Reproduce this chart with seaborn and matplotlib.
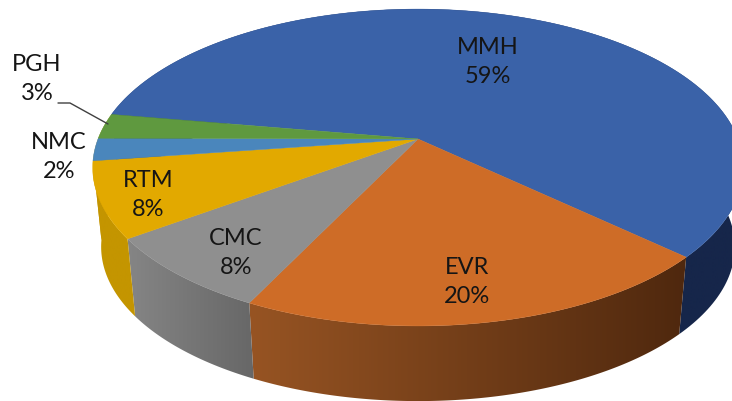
import numpy as np
import matplotlib
matplotlib.use("Agg")
import matplotlib.pyplot as plt
from matplotlib.colors import LinearSegmentedColormap
from matplotlib.patches import Polygon
import seaborn as sns

# pie values, clockwise starting from MMH
names = ['MMH', 'EVR', 'CMC', 'RTM', 'NMC', 'PGH']
shares = [59.2, 20.45, 7.8, 7.7, 2.3, 2.55]

top_colors = ['#3A62A8', '#CE6C27', '#8F8F8F', '#E2A900', '#4A86BC', '#5F993F']
# side colour at left end and right end of each slice
side_left = ['#16264A', '#975423', '#858585', '#C49500', '#C49500', '#C49500']
side_right = ['#16264A', '#4F280E', '#676767', '#C49500', '#C49500', '#C49500']

label_x = [488, 467, 236, 148, 59, 37]
label_y = [62, 282, 253, 195, 157, 79]

# perspective look of the pie, in pixels
cx, cy = 418, 140
start_angle = -80.5
rx, ry, tilt = 320, 153.3, 0.18
depth, shrink = 80, 0.974


def top_point(theta):
    u = np.sin(theta)
    v = -np.cos(theta)
    k = 1 / (1 - tilt * v)
    return cx + rx * u * k, cy + ry * v * k


sns.set_theme(style='white')
plt.rcParams['font.family'] = ['Lato', 'DejaVu Sans']

fig = plt.figure(figsize=(7.32, 4.02), dpi=100)
ax = fig.add_axes([0, 0, 1, 1])
ax.axis('off')

edges = start_angle + np.concatenate([[0], np.cumsum(shares)]) * 3.6

# sides first, a horizontal gradient clipped to each slice's wall
for i in range(len(shares)):
    thetas = np.radians(np.linspace(edges[i], edges[i + 1], 200))
    x, y = top_point(thetas)
    x2 = cx + (x - cx) * shrink
    y2 = cy + (y - cy) * shrink + depth
    wall = Polygon(np.c_[np.r_[x, x2[::-1]], np.r_[y, y2[::-1]]], closed=True,
                   transform=ax.transData, facecolor='none', edgecolor='none')
    ax.add_patch(wall)
    cmap = LinearSegmentedColormap.from_list('side', [side_left[i], side_right[i]])
    xall = np.r_[x, x2]
    img = ax.imshow(np.linspace(0, 1, 256)[None, :], cmap=cmap, aspect='auto', zorder=1,
                    extent=[xall.min(), xall.max(), 402, 0], interpolation='bilinear')
    img.set_clip_path(wall)

# top face
for i in range(len(shares)):
    thetas = np.radians(np.linspace(edges[i], edges[i + 1], 200))
    x, y = top_point(thetas)
    ax.fill(np.r_[cx, x], np.r_[cy, y], color=top_colors[i], lw=0.3, zorder=2)

for i in range(len(names)):
    ax.text(label_x[i], label_y[i], f'{names[i]}\n{shares[i]:.0f}%', ha='center', va='center',
            fontsize=17, color='#151515', linespacing=1.45, zorder=3)

# leader line of PGH
ax.plot([58, 70, 108], [104, 104, 125], color='#404040', lw=1, zorder=3)

ax.set_xlim(0, 732)
ax.set_ylim(402, 0)

plt.savefig('out.png', dpi=100)
